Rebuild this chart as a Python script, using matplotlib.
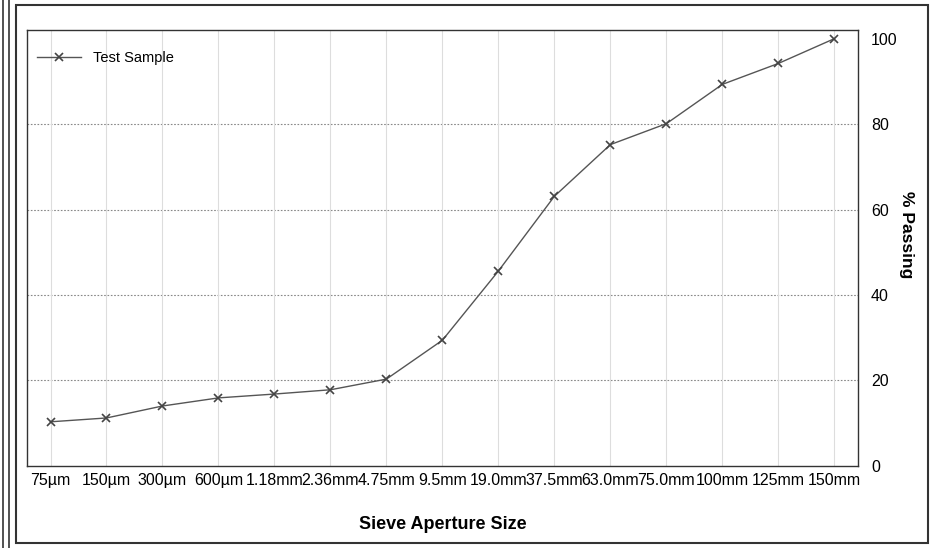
import matplotlib.pyplot as plt
from matplotlib.lines import Line2D
from matplotlib.patches import Rectangle

sieves = ["75µm", "150µm", "300µm", "600µm", "1.18mm", "2.36mm", "4.75mm", "9.5mm",
          "19.0mm", "37.5mm", "63.0mm", "75.0mm", "100mm", "125mm", "150mm"]
passing = [10.3, 11.2, 14.0, 15.9, 16.8, 17.8, 20.3, 29.4, 45.6, 63.1, 75.2, 80.1, 89.3, 94.2, 100.0]
yticks = [0, 20, 40, 60, 80, 100]

plt.rcParams['font.family'] = ['Liberation Sans', 'DejaVu Sans']

fig = plt.figure(figsize=(9.31, 5.48), dpi=100)
ax = fig.add_axes([0.029, 0.150, 0.893, 0.795])

x = list(range(len(sieves)))
ax.plot(x, passing, color='#555555', lw=1.0, marker='x', markersize=6,
        markeredgecolor='#444444', markeredgewidth=1.2, label='Test Sample')

ax.set_xlim(-0.42, len(sieves) - 1 + 0.43)
ax.set_ylim(0, 102)
ax.set_xticks(x)
ax.set_xticklabels(sieves, fontsize=11.5)
ax.set_yticks(yticks)
ax.tick_params(axis='x', length=0, pad=5)
ax.tick_params(axis='y', length=0, pad=9, labelsize=11.5)
ax.yaxis.tick_right()

#grid: dotted horizontal, faint vertical
for v in yticks[1:-1]:
    ax.axhline(v, color='#888888', lw=0.8, ls=(0, (1.5, 1.5)), zorder=0)
for xi in x:
    ax.axvline(xi, color='#dddddd', lw=0.8, zorder=0)

for s in ax.spines.values():
    s.set_color('#333333')
    s.set_linewidth(1.0)

ax.set_xlabel("Sieve Aperture Size", fontsize=13, fontweight='bold', labelpad=20)
ax.yaxis.set_label_position('right')
ax.set_ylabel("% Passing", fontsize=12.5, fontweight='bold', rotation=-90)
ax.yaxis.set_label_coords(1.067, 0.53)

ax.legend(loc='upper left', frameon=False, fontsize=10.5, handlelength=3,
          borderaxespad=0.3, bbox_to_anchor=(0.0, 0.975))

#outer frame of the scanned page
fig.add_artist(Rectangle((16/931, 5/548), 912/931, 538/548, transform=fig.transFigure,
                         fill=False, edgecolor='#333333', lw=1.5))
fig.add_artist(Line2D([3/931, 3/931], [0, 1], transform=fig.transFigure, color='#333333', lw=1.2))
fig.add_artist(Line2D([9/931, 9/931], [0, 1], transform=fig.transFigure, color='#333333', lw=1.2))

fig.savefig("out.png", dpi=100)
